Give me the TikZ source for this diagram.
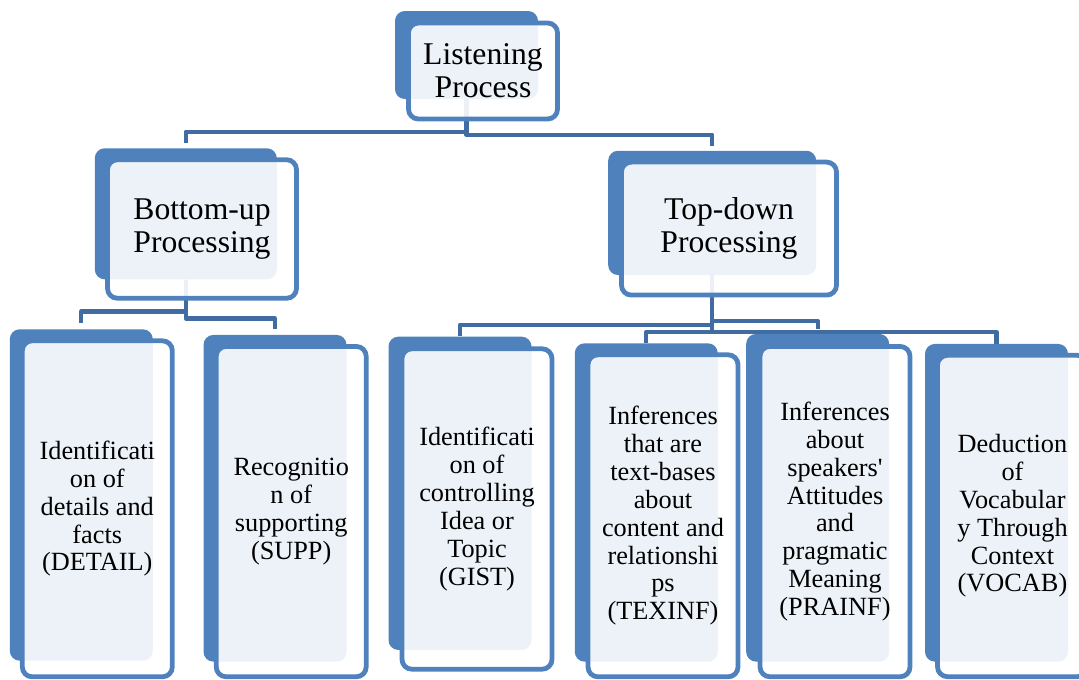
\documentclass[tikz,border=0pt]{standalone}
\usepackage{fontspec}
\setmainfont{Liberation Serif}
\usepackage{xcolor}
\definecolor{accentblue}{RGB}{79,129,189}
\definecolor{linkblue}{RGB}{64,108,162}
\newdimen\pxu \pxu=0.025cm
\pgfdeclarelayer{behind}
\pgfsetlayers{behind,main}

\begin{document}
\begin{tikzpicture}[x=0.025cm, y=-0.025cm,
    backbox/.style={rectangle, rounded corners=7pt, fill=accentblue, inner sep=0pt, minimum width=143\pxu},
    frontbox/.style={rectangle, rounded corners=7pt, draw=accentblue, line width=3.4pt, fill=white, fill opacity=0.9, text opacity=1, inner sep=0pt, align=center},
    bigtext/.style={font=\fontsize{22.5}{23.3}\selectfont},
    smalltext/.style={font=\fontsize{18.7}{19.8}\selectfont, minimum width=150\pxu},
    link/.style={draw=linkblue, line width=3.1pt, line join=round}
]
\useasboundingbox (0,0) rectangle (1079,679);

% Top level
\node[backbox, minimum height=88\pxu] (listenB) at (466.5,55) {};
\node[frontbox, bigtext, minimum width=149\pxu, minimum height=96\pxu] (listen) at (483,71) {Listening\\Process};

% Second level
\node[backbox, minimum width=182\pxu, minimum height=131\pxu] (bottomupB) at (185.8,213.8) {};
\node[frontbox, bigtext, minimum width=189\pxu, minimum height=138.5\pxu] (bottomup) at (202,229) {Bottom-up\\Processing};
\node[backbox, minimum width=208\pxu, minimum height=124.3\pxu] (topdownB) at (712.2,212.9) {};
\node[frontbox, bigtext, minimum width=215\pxu, minimum height=133\pxu] (topdown) at (729,228.6) {Top-down\\Processing};

% Third level
\node[backbox, minimum height=331.4\pxu] (detailB) at (81.3,495) {};
\node[frontbox, smalltext, minimum height=336\pxu] (detail) at (97.3,508.8) {Identificati\\on of\\details and\\facts\\(DETAIL)};
\node[backbox, minimum height=326.7\pxu] (suppB) at (275,498.3) {};
\node[frontbox, smalltext, minimum height=330.3\pxu] (supp) at (291.2,511.6) {Recognitio\\n of\\supporting\\(SUPP)};
\node[backbox, minimum height=313.3\pxu] (gistB) at (460,493.3) {};
\node[frontbox, smalltext, minimum height=320.4\pxu] (gist) at (477,509) {Identificati\\on of\\controlling\\Idea or\\Topic\\(GIST)};
\node[backbox, minimum height=318.4\pxu] (texinfB) at (646.3,502.5) {};
\node[frontbox, smalltext, minimum height=322\pxu] (texinf) at (663,515.8) {Inferences\\that are\\text-bases\\about\\content and\\relationshi\\ps\\(TEXINF)};
\node[backbox, minimum height=327.7\pxu] (prainfB) at (817.7,497.8) {};
\node[frontbox, smalltext, minimum height=330.3\pxu] (prainf) at (835,511.6) {Inferences\\about\\speakers\textquotesingle\\Attitudes\\and\\pragmatic\\Meaning\\(PRAINF)};
\node[backbox, minimum height=317.7\pxu] (vocabB) at (996.5,502.8) {};
\node[frontbox, smalltext, minimum height=321.3\pxu] (vocab) at (1012.5,516) {Deduction\\of\\Vocabular\\y Through\\Context\\(VOCAB)};

% Elbow connectors, kept behind the boxes
\begin{pgfonlayer}{behind}
\draw[link, shorten >=3.5pt] (listenB.south) -- ++(0,32.5) -| (bottomupB.north);
\draw[link, shorten >=3.5pt] (listenB.south) -- ++(0,35.5) -| (topdownB.north);
\draw[link, shorten >=4pt] (bottomupB.south) -- ++(0,32) -| (detailB.north);
\draw[link, shorten >=4pt] (bottomupB.south) -- ++(0,39) -| (suppB.north);
\draw[link] (topdownB.south) -- ++(0,49.4) -| (gistB.north);
\draw[link, shorten >=3.5pt] (topdownB.south) -- ++(0,45.7) -| (prainfB.north);
\draw[link] (topdownB.south) -- ++(0,56.8) -| (texinfB.north);
\draw[link] (topdownB.south) -- ++(0,56.8) -| (vocabB.north);
\end{pgfonlayer}
\end{tikzpicture}
\end{document}
